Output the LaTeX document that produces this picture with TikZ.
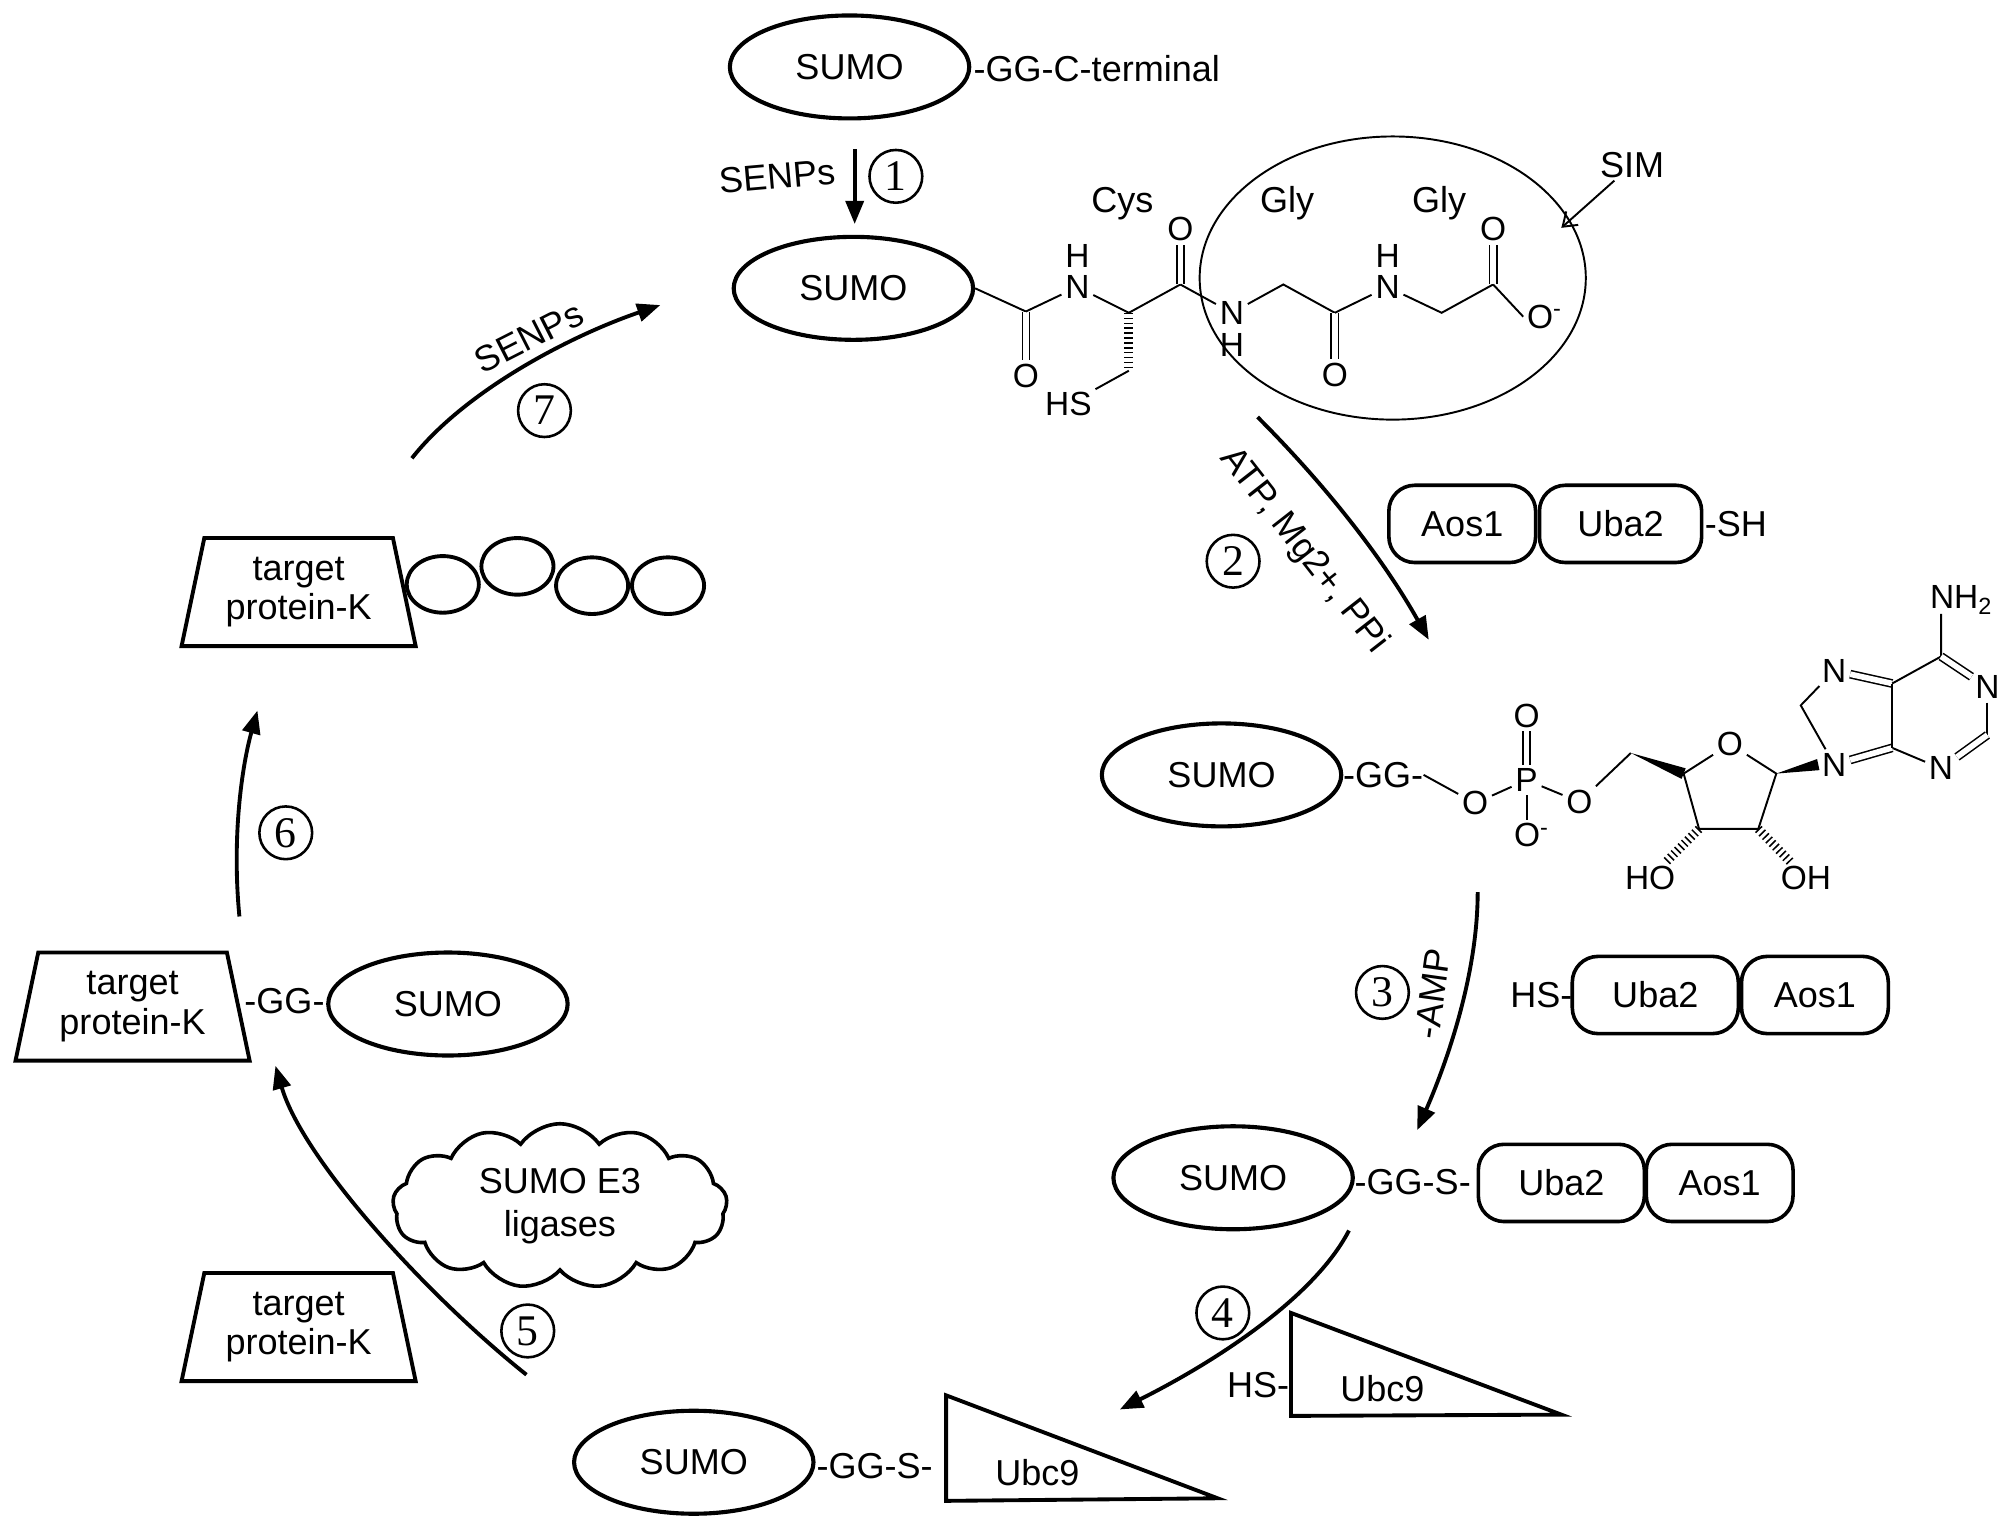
\documentclass[tikz,border=0pt]{standalone}
\usepackage{fontspec}
\setmainfont{Liberation Sans}
\newfontfamily\numfont{Liberation Serif}
\usetikzlibrary{shapes.geometric,shapes.symbols,arrows.meta,calc}
\begin{document}
\begin{tikzpicture}[x=0.5pt,y=-0.5pt,
  lab/.style={font=\fontsize{14}{15.5}\selectfont, inner sep=1pt},
  chem/.style={font=\fontsize{13}{13}\selectfont, inner sep=1.3pt},
  sumo/.style={ellipse, draw, line width=1.6pt, minimum width=93pt, minimum height=40pt, inner sep=0pt, font=\fontsize{14}{15.5}\selectfont},
  pbox/.style={draw, line width=1.4pt, rounded corners=10pt, minimum height=30pt, inner sep=0pt, font=\fontsize{14}{15.5}\selectfont},
  trap/.style={trapezium, trapezium stretches=true, trapezium left angle=76, trapezium right angle=76, draw, line width=1.5pt, minimum width=91.5pt, minimum height=42pt, inner sep=0pt, align=center, font=\fontsize{14}{15.5}\selectfont},
  num/.style={circle, draw, line width=1pt, minimum size=20.5pt, inner sep=0pt, font=\numfont\fontsize{17}{17}\selectfont},
  bond/.style={line width=0.75pt},
  dbond/.style={double, double distance=2.2pt, line width=0.6pt},
  hashb/.style={line width=3.5pt, dash pattern=on 0.6pt off 1.3pt},
  rxn/.style={line width=1.5pt, -{Triangle[length=9pt,width=7pt]}},
  bead/.style={ellipse, draw, line width=1.5pt, minimum width=28pt, minimum height=22pt, inner sep=0pt},
  tri/.style={draw, line width=1.5pt, line join=miter},
]
\fill[white] (0,0) rectangle (1560,1184);
\useasboundingbox (0,0) rectangle (1560,1184);

% ---------- top: precursor and step 1 ----------
\node[sumo] (s0) at (660,52) {SUMO};
\node[lab, anchor=west, inner sep=0pt] (gc) at (756,53) {-GG-C-terminal};
\coordinate (a1s) at (664,116);
\coordinate (a1e) at (664,174);
\draw[rxn] (a1s) -- (a1e);
\node[lab, rotate=5] (senp1) at (604,137) {SENPs};
\node[num] (n1) at (696,137) {1};

\node[sumo] (s1) at (663,224) {SUMO};

% chain Cys-Gly-Gly
\coordinate (c1) at (797,242);
\node[chem] (o1) at (797,292) {O};
\node[chem] (nn1) at (837,223) {N};
\node[chem] (h1) at (837,199) {H};
\coordinate (ca) at (877,243);
\coordinate (cb) at (877,288);
\node[chem] (hs0) at (830,314) {HS};
\coordinate (c2) at (917,221);
\node[chem] (o2) at (917,178) {O};
\node[chem] (nn2) at (957,243) {N};
\node[chem] (h2) at (957,268) {H};
\coordinate (m1) at (997,221);
\coordinate (c3) at (1037,243);
\node[chem] (o3) at (1037,291) {O};
\node[chem] (nn3) at (1078,223) {N};
\node[chem] (h3) at (1078,199) {H};
\coordinate (m2) at (1120,243);
\coordinate (c4) at (1160,221);
\node[chem] (o4) at (1160,178) {O};
\node[chem] (om) at (1200,246) {O\textsuperscript{-}};

\draw[bond] (s1.east) -- (c1);
\draw[dbond] (c1) -- (o1);
\draw[bond] (c1) -- (nn1) -- (ca);
\draw[hashb] (ca) -- (cb);
\draw[bond] (cb) -- (hs0);
\draw[bond] (ca) -- (c2);
\draw[dbond] (c2) -- (o2);
\draw[bond] (c2) -- (nn2) -- (m1) -- (c3);
\draw[dbond] (c3) -- (o3);
\draw[bond] (c3) -- (nn3) -- (m2) -- (c4);
\draw[dbond] (c4) -- (o4);
\draw[bond] (c4) -- (om.west);

\node[lab] (cys) at (872,158) {Cys};
\node[lab] (gly1) at (1000,158) {Gly};
\node[lab] (gly2) at (1118,158) {Gly};
\node[ellipse, draw, line width=0.75pt, minimum width=150pt, minimum height=110pt, inner sep=0pt] (simc) at (1082,216) {};
\node[lab] (sim) at (1268,128) {SIM};
\coordinate (simtip) at (1213,177);
\draw[line width=0.75pt, -{Straight Barb[length=5pt,width=7pt]}] (sim) -- (simtip);

% ---------- step 2 ----------
\coordinate (a2s) at (977,324);
\coordinate (a2e) at (1110,497);
\draw[rxn] (a2s) .. controls (1029,376) and (1074,433) .. (a2e);
\node[lab, rotate=-52] (atp) at (1013,428) {ATP, Mg2+, PPi};
\node[num] (n2) at (958,436) {2};
\node[pbox, minimum width=57pt] (aos1a) at (1136,407) {Aos1};
\node[pbox, minimum width=63pt] (uba2a) at (1259,407) {Uba2};
\node[lab, anchor=west, inner sep=0pt] (sh) at (1324,407) {-SH};

% ---------- SUMO-AMP ----------
\node[sumo] (s2) at (949,602) {SUMO};
\node[lab, anchor=west, inner sep=0pt] (gg2) at (1043,602) {-GG-};
\node[chem] (ob1) at (1146,624) {O};
\node[chem] (pp) at (1186,606) {P};
\node[chem] (otop) at (1186,556) {O};
\node[chem] (opm) at (1190,649) {O\textsuperscript{-}};
\node[chem] (ob2) at (1227,623) {O};
\coordinate (c5p) at (1267,585);
\coordinate (c4p) at (1308,601);
\node[chem] (o4p) at (1344,578) {O};
\coordinate (c1p) at (1380,601);
\coordinate (c2p) at (1366,644);
\coordinate (c3p) at (1320,644);
\node[chem] (ho) at (1282,682) {HO};
\node[chem] (oh) at (1403,682) {OH};
\node[chem] (n9) at (1425,594) {N};
\coordinate (c8) at (1399,548);
\node[chem] (n7) at (1425,521) {N};
\coordinate (c5) at (1470,531);
\coordinate (c6) at (1508,510);
\node[chem, anchor=west, inner sep=0pt] (nh2) at (1499,466) {NH\textsubscript{2}};
\coordinate (nh2b) at (1508,477);
\node[chem] (nr1) at (1544,534) {N};
\coordinate (cr2) at (1544,571);
\node[chem] (nr3) at (1508,597) {N};
\coordinate (cr4) at (1470,581);

\draw[bond] (gg2.east) -- (ob1) -- (pp);
\draw[dbond] (pp) -- (otop);
\draw[bond] (pp) -- (opm.north -| pp);
\draw[bond] (pp) -- (ob2) -- (c5p);
\fill (c5p) -- ($(c4p)!2.2pt!90:(c5p)$) -- ($(c4p)!2.2pt!-90:(c5p)$) -- cycle;
\draw[bond] (c4p) -- (o4p) -- (c1p) -- (c2p) -- (c3p) -- (c4p);
\draw[hashb] (c3p) -- (ho);
\draw[hashb] (c2p) -- (oh);
\fill (c1p) -- ($(n9.west)!2.2pt!90:(c1p)$) -- ($(n9.west)!2.2pt!-90:(c1p)$) -- cycle;
\draw[bond] (n9) -- (c8) -- (n7);
\draw[dbond] (n7) -- (c5);
\draw[bond] (c5) -- (c6) -- (nh2b);
\draw[dbond] (c6) -- (nr1);
\draw[bond] (nr1) -- (cr2);
\draw[dbond] (cr2) -- (nr3);
\draw[bond] (nr3) -- (cr4);
\draw[dbond] (cr4) -- (n9);
\draw[bond] (cr4) -- (c5);

% ---------- step 3 ----------
\coordinate (a3s) at (1148,693);
\coordinate (a3e) at (1101,878);
\draw[rxn] (a3s) .. controls (1148,760) and (1122,830) .. (a3e);
\node[num] (n3) at (1074,771) {3};
\node[lab, rotate=82] (amp) at (1113,772) {-AMP};
\node[lab, anchor=east, inner sep=0pt] (hs1) at (1222,773) {HS-};
\node[pbox, minimum width=64.5pt] (uba2b) at (1286,773) {Uba2};
\node[pbox, minimum width=57pt] (aos1b) at (1410,773) {Aos1};

% ---------- SUMO-E1 thioester ----------
\node[sumo] (s3) at (958,915) {SUMO};
\node[lab, anchor=west, inner sep=0pt] (ggs1) at (1052,918) {-GG-S-};
\node[pbox, minimum width=64.5pt] (uba2c) at (1213,919) {Uba2};
\node[pbox, minimum width=57pt] (aos1c) at (1336,919) {Aos1};

% ---------- step 4 ----------
\coordinate (a4s) at (1048,956);
\coordinate (a4e) at (870,1095);
\draw[rxn] (a4s) .. controls (1020,1010) and (940,1060) .. (a4e);
\node[num] (n4) at (950,1020) {4};
\coordinate (u1) at (1003,1020);
\coordinate (u2) at (1003,1100);
\coordinate (u3) at (1213,1099);
\draw[tri] (u1) -- (u2) -- (u3) -- cycle;
\node[lab] (ubc9a) at (1074,1079) {Ubc9};
\node[lab, anchor=east, inner sep=0pt] (hs2) at (1002,1076) {HS-};

% ---------- SUMO-Ubc9 ----------
\node[sumo] (s4) at (539,1136) {SUMO};
\node[lab, anchor=west, inner sep=0pt] (ggs2) at (634,1139) {-GG-S-};
\coordinate (v1) at (735,1084);
\coordinate (v2) at (735,1166);
\coordinate (v3) at (946,1164);
\draw[tri] (v1) -- (v2) -- (v3) -- cycle;
\node[lab] (ubc9b) at (806,1144) {Ubc9};

% ---------- step 5 ----------
\node[trap] (t3) at (232,1031) {target\\protein-K};
\node[cloud, cloud puffs=13, cloud puff arc=110, aspect=2.1, draw, line width=1.4pt, minimum width=130pt, minimum height=64pt, inner sep=0pt, align=center, font=\fontsize{14}{16.5}\selectfont] (e3) at (435,937) {SUMO E3\\ligases};
\coordinate (a5s) at (409,1068);
\coordinate (a5e) at (214,828);
\draw[rxn] (a5s) .. controls (330,1005) and (235,900) .. (a5e);
\node[num] (n5) at (410,1034) {5};

% ---------- conjugated target ----------
\node[trap] (t2) at (103,782) {target\\protein-K};
\node[lab] (gg3) at (221,778) {-GG-};
\node[sumo] (s5) at (348,780) {SUMO};

% ---------- step 6 ----------
\coordinate (a6s) at (186,712);
\coordinate (a6e) at (200,552);
\draw[rxn] (a6s) .. controls (180,650) and (188,595) .. (a6e);
\node[num] (n6) at (222,647) {6};

% ---------- poly-SUMO target ----------
\node[trap] (t1) at (232,460) {target\\protein-K};
\node[bead] (b1) at (344,454) {};
\node[bead] (b2) at (402,440) {};
\node[bead] (b3) at (460,455) {};
\node[bead] (b4) at (519,455) {};

% ---------- step 7 ----------
\coordinate (a7s) at (320,356);
\coordinate (a7e) at (513,237);
\draw[rxn] (a7s) .. controls (360,305) and (440,262) .. (a7e);
\node[lab, rotate=27] (senp7) at (411,262) {SENPs};
\node[num] (n7c) at (423,319) {7};
\end{tikzpicture}
\end{document}
